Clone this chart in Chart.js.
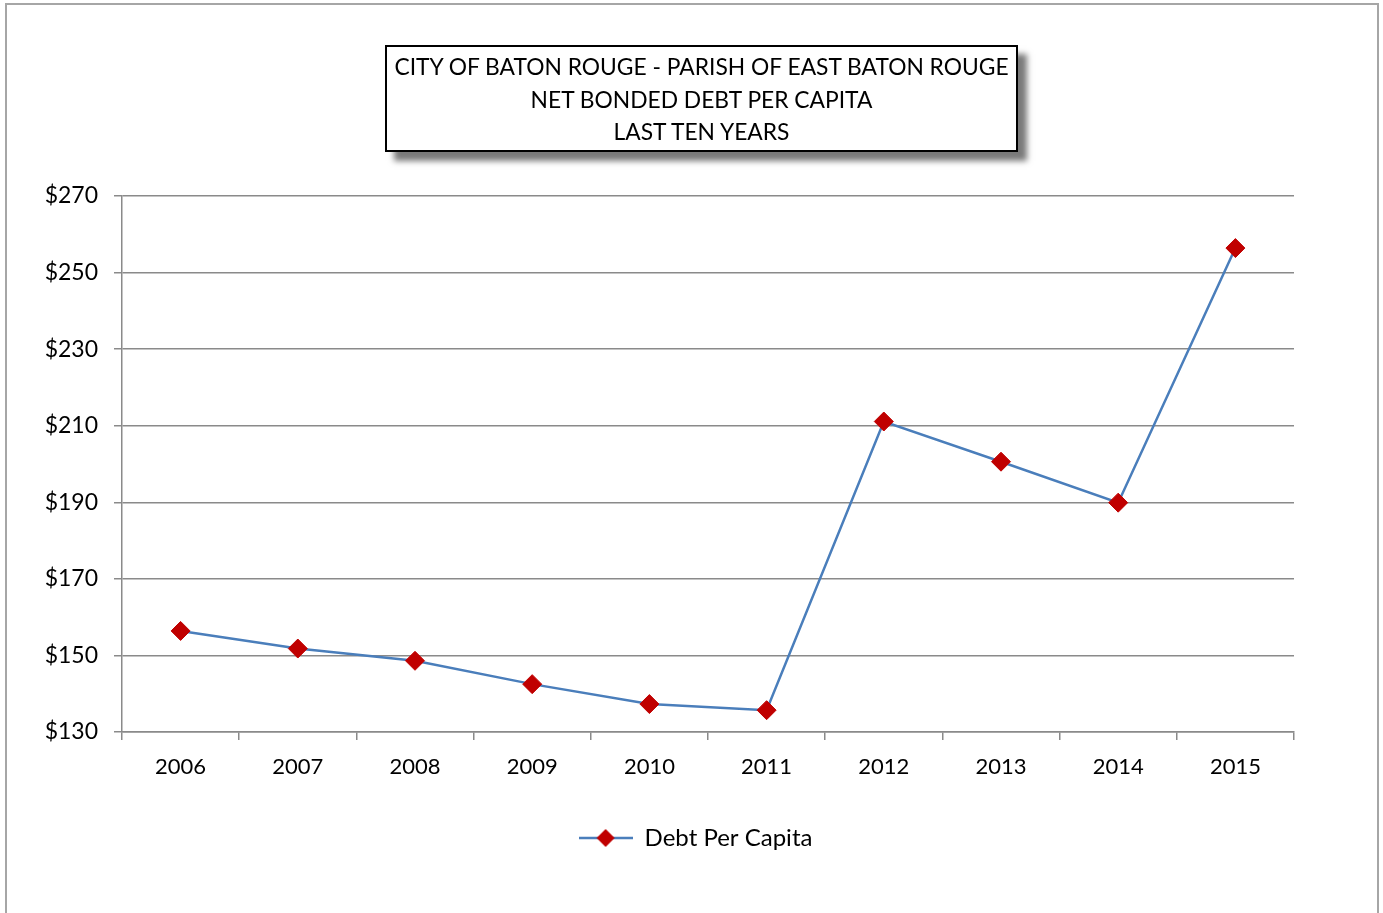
<!DOCTYPE html>
<html>
<head>
<meta charset="utf-8">
<script src="https://cdn.jsdelivr.net/npm/chart.js@4/dist/chart.umd.min.js"></script>
<style>
  html, body { margin: 0; padding: 0; background: #fff; overflow: hidden; }
  #wrap { position: relative; width: 1383px; height: 913px; }
  #frame { position: absolute; left: 5px; top: 3px; width: 1374px; height: 1000px; border: 2px solid #a6a6a6; box-sizing: border-box; }
  #c { position: absolute; left: 0; top: 0; }
  #title { position: absolute; left: 385px; top: 45px; width: 633px; height: 107px; box-sizing: border-box;
    border: 2px solid #000; background: #fff; box-shadow: 9px 9px 6px #7a7a7a;
    font-family: Lato, sans-serif; font-size: 22.8px; line-height: 32.5px; text-align: center; color: #000; padding-top: 3px; white-space: nowrap; }
</style>
</head>
<body>
<div id="wrap">
  <div id="frame"></div>
  <canvas id="c" width="1383" height="913"></canvas>
  <div id="title">CITY OF BATON ROUGE - PARISH OF EAST BATON ROUGE<br>NET BONDED DEBT PER CAPITA<br>LAST TEN YEARS</div>
</div>
<script>
const years = ['2006','2007','2008','2009','2010','2011','2012','2013','2014','2015'];
const debtPerCapita = [156.4, 151.8, 148.6, 142.5, 137.3, 135.7, 211.1, 200.6, 189.9, 256.4];
const seriesName = 'Debt Per Capita';
const yMin = 130, yMax = 270, yStep = 20;

const lineColor = '#4a7ebb';
const markerColor = '#c00000';
const gridColor = '#8a8a8a';
const fontFamily = 'Lato, sans-serif';

// legend symbol: line with diamond
const sym = document.createElement('canvas');
sym.width = 54; sym.height = 22;
(function(){
  const g = sym.getContext('2d');
  g.strokeStyle = lineColor; g.lineWidth = 2.5;
  g.beginPath(); g.moveTo(0, 11); g.lineTo(54, 11); g.stroke();
  g.fillStyle = markerColor;
  g.beginPath(); g.moveTo(27-9, 11); g.lineTo(27, 2); g.lineTo(27+9, 11); g.lineTo(27, 20); g.closePath(); g.fill();
})();

// center the legend on the whole canvas
const legendCenter = {
  id: 'legendCenter',
  afterLayout(chart) {
    const lg = chart.legend;
    if (!lg) return;
    lg.left = 8; lg.right = chart.width; lg.width = chart.width - 8;
  }
};

new Chart(document.getElementById('c'), {
  type: 'line',
  data: {
    labels: years,
    datasets: [{
      label: seriesName,
      data: debtPerCapita,
      borderColor: lineColor,
      borderWidth: 2.5,
      backgroundColor: markerColor,
      pointStyle: 'rectRot',
      pointRadius: 9.5,
      pointHoverRadius: 9.5,
      pointBackgroundColor: markerColor,
      pointBorderColor: markerColor,
      pointBorderWidth: 1,
      tension: 0,
      fill: false
    }]
  },
  plugins: [legendCenter],
  options: {
    responsive: false,
    animation: false,
    devicePixelRatio: 1,
    layout: { padding: { left: 0, right: 89, top: 196, bottom: 53 } },
    plugins: {
      title: { display: false },
      tooltip: { enabled: false },
      legend: {
        display: true,
        position: 'bottom',
        labels: {
          usePointStyle: true,
          pointStyleWidth: 54,
          boxHeight: 22,
          padding: 10,
          color: '#000',
          font: { family: fontFamily, size: 24 },
          generateLabels: () => [{
            text: seriesName, pointStyle: sym, fillStyle: markerColor, strokeStyle: markerColor,
            lineWidth: 0, hidden: false, datasetIndex: 0, fontColor: '#000'
          }]
        }
      }
    },
    scales: {
      x: {
        type: 'category',
        offset: true,
        grid: { display: true, offset: true, drawOnChartArea: false, drawTicks: true, tickLength: 8, color: gridColor, lineWidth: 1.5 },
        border: { display: true, color: gridColor, width: 1.5 },
        ticks: { color: '#000', font: { family: fontFamily, size: 22 }, padding: 14, maxRotation: 0, autoSkip: false },
        afterFit: (s) => { s.height = 84; }
      },
      y: {
        min: yMin, max: yMax,
        grid: { display: true, drawOnChartArea: true, drawTicks: true, tickLength: 8, color: gridColor, lineWidth: 1.5 },
        border: { display: true, color: gridColor, width: 1.5 },
        ticks: { stepSize: yStep, color: '#000', font: { family: fontFamily, size: 23 }, padding: 16,
          callback: (v) => '$' + v },
        afterFit: (s) => { s.width = 122; }
      }
    }
  }
});
</script>
</body>
</html>
